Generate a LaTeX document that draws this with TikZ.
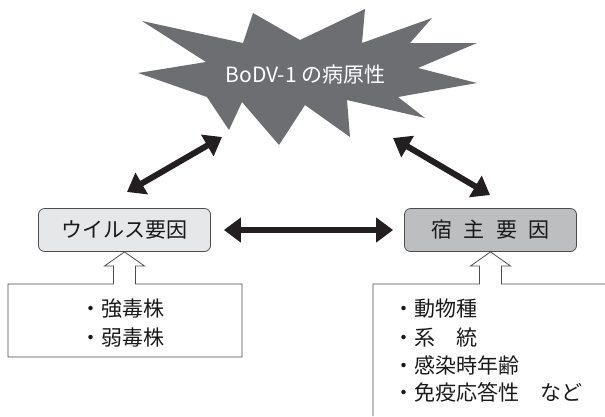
\documentclass[tikz,border=0pt]{standalone}
\usepackage{fontspec}
\newfontfamily\jp{Noto Sans CJK JP}
\usetikzlibrary{arrows.meta}
\definecolor{burstgray}{HTML}{6D6E71}
\definecolor{boxline}{HTML}{4D4D4D}
\definecolor{lightbox}{HTML}{E6E7E8}
\definecolor{darkbox}{HTML}{BCBEC0}
\definecolor{arrowblack}{HTML}{231F20}
\begin{document}
\begin{tikzpicture}[x=1pt,y=-1pt,
  every node/.style={font=\jp\fontsize{21}{28}\selectfont, inner sep=0pt, text=black!90},
  factor/.style={draw=boxline, line width=0.8pt, rounded corners=6pt, minimum width=172pt, minimum height=43pt},
  bigarrow/.style={draw=arrowblack, line width=6pt, {Triangle[length=17pt,width=24pt]}-{Triangle[length=17pt,width=24pt]}},
  outline/.style={draw=boxline, line width=0.8pt},
  itemtext/.style={anchor=base west}]
\useasboundingbox (0,0) rectangle (605,416);
% starburst
\fill[burstgray] (142,21) -- (243,43) -- (253,13) -- (300,40) -- (365,9) -- (362,43)
  -- (432,18) -- (410,43) -- (477,43) -- (418,68) -- (477,83) -- (398,97)
  -- (425,118) -- (347,100) -- (350,137) -- (305,105) -- (279,145) -- (242,102)
  -- (229,130) -- (207,97) -- (138,73) -- (206,62) -- cycle;
\node[text=white, anchor=base] (title) at (305.5,82) {BoDV-1 の病原性};
% factor boxes
\node[factor, fill=lightbox] (virus) at (124.5,230) {ウイルス要因};
\node[factor, fill=darkbox] (host) at (490.5,230) {宿\hspace{0.54em}主\hspace{0.54em}要\hspace{0.54em}因};
% arrows
\coordinate (vb) at (127,192);
\coordinate (vt) at (222,137);
\coordinate (ht) at (393,138);
\coordinate (hb) at (490,195);
\draw[bigarrow] (vb) -- (vt);
\draw[bigarrow] (ht) -- (hb);
\draw[bigarrow, shorten <=13pt, shorten >=11pt] (virus.east) -- (host.west);
% lower boxes with hollow arrows
\draw[outline, line join=miter] (135.5,284) -- (135.5,266) -- (144.5,266) -- (virus.south) -- (104.5,266)
  -- (113.5,266) -- (113.5,284) -- (8,284) -- (8,357) -- (242,357) -- (242,284) -- cycle;
\draw[outline, line join=miter] (605,284) -- (501.5,284) -- (501.5,266) -- (510.5,266) -- (host.south)
  -- (470.5,266) -- (479.5,266) -- (479.5,284) -- (373,284) -- (373,416);
% item texts
\node[itemtext] (s1) at (80,316) {・強毒株};
\node[itemtext] (s2) at (80,345) {・弱毒株};
\node[itemtext] (h1) at (393,316) {・動物種};
\node[itemtext] (h2) at (393,345) {・系　統};
\node[itemtext] (h3) at (393,373) {・感染時年齢};
\node[itemtext] (h4) at (393,400) {・免疫応答性　など};
\end{tikzpicture}
\end{document}
